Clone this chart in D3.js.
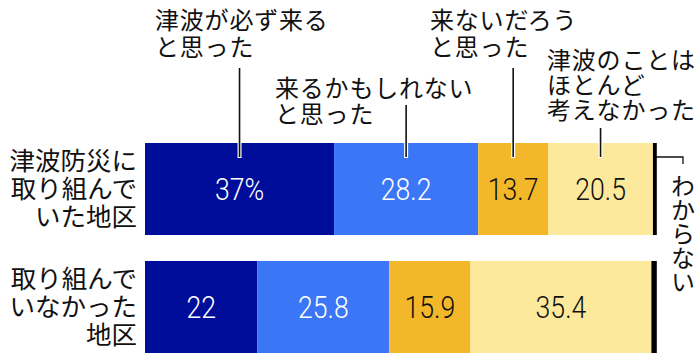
<!DOCTYPE html>
<html><head><meta charset="utf-8">
<script src="https://cdn.jsdelivr.net/npm/d3@7"></script>
<style>
body{margin:0;background:#fff;}
svg{display:block;}
.jp{font-family:"Noto Sans CJK JP","Noto Sans",sans-serif;}
.num{font-family:"Roboto","Liberation Sans",sans-serif;font-weight:300;}
</style></head>
<body>
<script>
const categories = ["津波防災に取り組んでいた地区", "取り組んでいなかった地区"];
const categoryLines = [["津波防災に","取り組んで","いた地区"], ["取り組んで","いなかった","地区"]];
const seriesNames = ["津波が必ず来ると思った", "来るかもしれないと思った", "来ないだろうと思った", "津波のことはほとんど考えなかった", "わからない"];
const seriesLines = [["津波が必ず来る","と思った"], ["来るかもしれない","と思った"], ["来ないだろう","と思った"], ["津波のことは","ほとんど","考えなかった"], ["わからない"]];
const valsKakunin = [37, 28.2, 13.7, 20.5, 0.6];
const valsNashi = [22, 25.8, 15.9, 35.4, 0.9];
const colors = ["#000c9a", "#3a76f6", "#f3b82a", "#fde99b", "#000000"];
const textColors = ["#ffffff", "#ffffff", "#111111", "#111111"];

const W = 700, H = 360;
const svg = d3.select("body").append("svg").attr("width", W).attr("height", H);

const x = d3.scaleLinear().domain([0, 100]).range([145, 656]);
const y = d3.scaleBand().domain(categories).range([143, 353]).paddingInner(0.22).paddingOuter(0);

const data = [valsKakunin, valsNashi];
data.forEach((vals, ci) => {
  const cat = categories[ci];
  let cum = 0;
  const segs = vals.map((v, i) => { const s = {i, v, x0: cum, x1: cum + v}; cum += v; return s; });
  const g = svg.append("g");
  g.selectAll("rect").data(segs).join("rect")
    .attr("x", d => x(d.x0))
    .attr("y", y(cat))
    .attr("width", d => x(d.x1) - x(d.x0) + (d.i === 4 ? 0.8 : 0))
    .attr("height", y.bandwidth())
    .attr("fill", d => colors[d.i]);
  g.selectAll("text").data(segs.slice(0, 4)).join("text")
    .attr("class", "num")
    .attr("transform", d => `translate(${x((d.x0 + d.x1) / 2)},${y(cat) + y.bandwidth() / 2 + 11}) scale(0.86,1)`)
    .attr("text-anchor", "middle")
    .attr("font-size", 31)
    .attr("fill", d => textColors[d.i])
    .text(d => (ci === 0 && d.i === 0) ? d.v + "%" : d.v);
  const lh = 28;
  const cy = y(cat) + y.bandwidth() / 2;
  categoryLines[ci].forEach((t, k) => {
    svg.append("text").attr("class", "jp")
      .attr("x", 137).attr("y", cy + (k - 1) * lh + 9)
      .attr("text-anchor", "end").attr("font-size", 25.5).attr("fill", "#111")
      .text(t);
  });
});

// leader lines and top annotations (top bar)
const topCat = categories[0];
let cum = 0;
const centers = valsKakunin.map(v => { const c = cum + v / 2; cum += v; return c; });
const lineTops = [68, 105, 68, 128];
const annX = [155, 275, 430, 547];
const annY = [[29, 56], [97, 123], [29, 56], [69, 94, 119]];
for (let i = 0; i < 4; i++) {
  const lx = x(centers[i]);
  svg.append("line").attr("x1", lx).attr("x2", lx).attr("y1", lineTops[i]).attr("y2", y(topCat) + 15)
    .attr("stroke", "#fff").attr("stroke-width", 4);
  svg.append("line").attr("x1", lx).attr("x2", lx).attr("y1", lineTops[i]).attr("y2", y(topCat) + 14)
    .attr("stroke", "#111").attr("stroke-width", 1.6);
  seriesLines[i].forEach((t, k) => {
    svg.append("text").attr("class", "jp")
      .attr("x", annX[i]).attr("y", annY[i][k])
      .attr("font-size", 24).attr("letter-spacing", 0.8).attr("fill", "#111").text(t);
  });
}
// わからない
const endX = x(valsKakunin.reduce((a, b) => a + b, 0));
svg.append("path")
  .attr("d", `M${endX},${y(topCat) + 14}H683V${y(topCat) + 21}`)
  .attr("fill", "none").attr("stroke", "#111").attr("stroke-width", 1.3);
svg.append("text").attr("class", "jp")
  .attr("x", 683).attr("y", 174)
  .style("writing-mode", "vertical-rl")
  .attr("font-size", 24).attr("fill", "#111").text(seriesLines[4][0]);
</script>
</body></html>
